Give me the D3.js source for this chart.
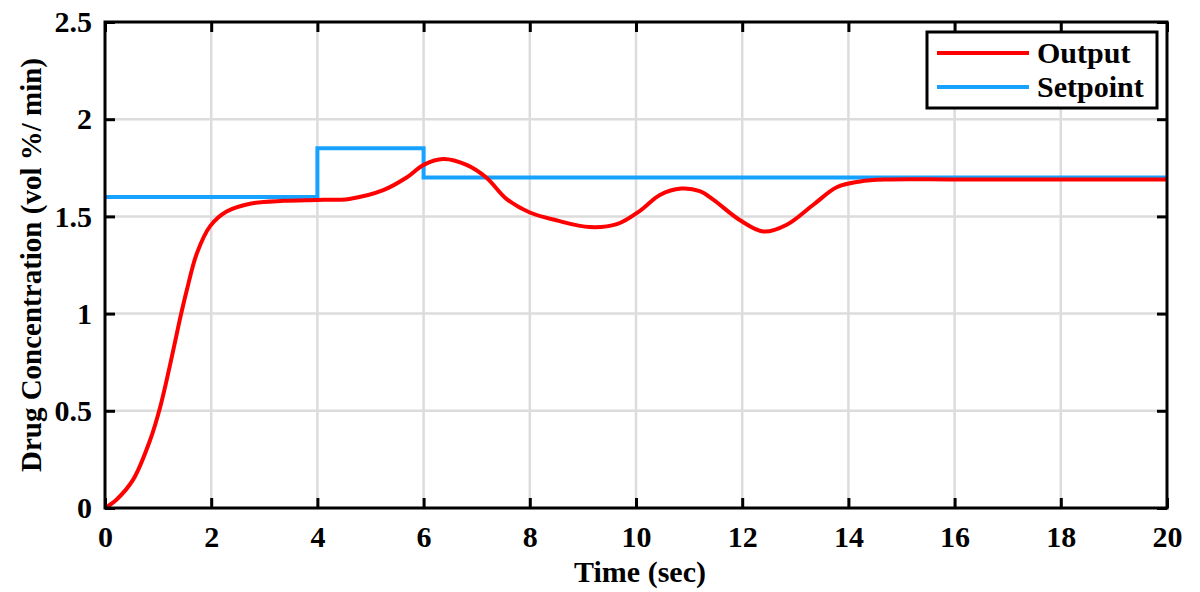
<!DOCTYPE html>
<html>
<head>
<meta charset="utf-8">
<script src="https://cdn.jsdelivr.net/npm/d3@7"></script>
<style>
  body { margin: 0; background: #fff; }
  text { font-family: "Liberation Serif", "Times New Roman", serif; font-weight: bold; fill: #000; }
</style>
</head>
<body>
<div id="chart"></div>
<script>
// time (sec) and drug concentration
var outputTime = [0, 0.22, 0.53, 0.85, 1.04, 1.22, 1.41, 1.54, 1.73, 1.98, 2.29, 2.73, 3.36, 4.0, 4.6,
    5.24, 5.68, 6.0, 6.37, 6.81, 7.18, 7.56, 8.0, 8.5, 9.13, 9.64, 10.08, 10.45, 10.85, 11.2,
    11.46, 11.96, 12.4, 12.84, 13.34, 13.78, 14.22, 14.72, 16, 18, 20];
var outputValue = [0, 0.044, 0.146, 0.35, 0.52, 0.73, 0.97, 1.12, 1.31, 1.45, 1.525, 1.565, 1.58, 1.585, 1.59,
    1.635, 1.70, 1.765, 1.795, 1.765, 1.70, 1.59, 1.52, 1.48, 1.445, 1.46, 1.53, 1.61, 1.643, 1.63,
    1.585, 1.48, 1.422, 1.457, 1.56, 1.65, 1.68, 1.69, 1.69, 1.69, 1.69];

var setpointTime = [0, 4, 6, 20];
var setpointValue = [1.6, 1.85, 1.7, 1.7];

var xTicks = [0, 2, 4, 6, 8, 10, 12, 14, 16, 18, 20];
var yTicks = [0, 0.5, 1, 1.5, 2, 2.5];
var yTickLabels = ["0", "0.5", "1", "1.5", "2", "2.5"];

var seriesNames = ["Output", "Setpoint"];
var seriesColors = ["#ff0000", "#17a2ff"];

var width = 1200, height = 592;
var margin = { left: 105, top: 22, right: 33, bottom: 84 };

var svg = d3.select("#chart").append("svg")
    .attr("width", width)
    .attr("height", height);

var x = d3.scaleLinear().domain([0, 20]).range([margin.left, width - margin.right]);
var y = d3.scaleLinear().domain([0, 2.5]).range([height - margin.bottom, margin.top]);

// grid
svg.append("g").selectAll("line").data(xTicks.slice(1, -1)).join("line")
    .attr("x1", d => x(d)).attr("x2", d => x(d))
    .attr("y1", y(0)).attr("y2", y(2.5))
    .attr("stroke", "#dcdcdc").attr("stroke-width", 2.5);
svg.append("g").selectAll("line").data(yTicks.slice(1, -1)).join("line")
    .attr("x1", x(0)).attr("x2", x(20))
    .attr("y1", d => y(d)).attr("y2", d => y(d))
    .attr("stroke", "#dcdcdc").attr("stroke-width", 2.5);

// lines
var setpointData = setpointTime.map((t, i) => ({ t: t, v: setpointValue[i] }));
var outputData = outputTime.map((t, i) => ({ t: t, v: outputValue[i] }));

svg.append("path").datum(setpointData)
    .attr("fill", "none")
    .attr("stroke", seriesColors[1])
    .attr("stroke-width", 4)
    .attr("d", d3.line().x(d => x(d.t)).y(d => y(d.v)).curve(d3.curveStepAfter));

svg.append("path").datum(outputData)
    .attr("fill", "none")
    .attr("stroke", seriesColors[0])
    .attr("stroke-width", 4)
    .attr("d", d3.line().x(d => x(d.t)).y(d => y(d.v)).curve(d3.curveCatmullRom.alpha(0.5)));

// axes, with the box ticks on all four sides
function styleAxis(g) {
    g.select(".domain").remove();
    g.selectAll(".tick line").attr("stroke", "#000").attr("stroke-width", 3);
    g.selectAll(".tick text")
        .style("font-family", "'Liberation Serif', serif")
        .style("font-weight", "bold")
        .style("font-size", "30px")
        .attr("fill", "#000");
}

svg.append("g")
    .attr("transform", "translate(0," + y(0) + ")")
    .call(d3.axisBottom(x).tickValues(xTicks).tickSize(-10).tickFormat(d3.format("d")))
    .call(styleAxis)
    .call(g => g.selectAll(".tick text").attr("y", 39).attr("dy", 0));
svg.append("g")
    .attr("transform", "translate(0," + y(2.5) + ")")
    .call(d3.axisTop(x).tickValues(xTicks).tickSize(-10).tickFormat(""))
    .call(styleAxis);
svg.append("g")
    .attr("transform", "translate(" + x(0) + ",0)")
    .call(d3.axisLeft(y).tickValues(yTicks).tickSize(-10).tickFormat((d, i) => yTickLabels[i]))
    .call(styleAxis)
    .call(g => g.selectAll(".tick text").attr("x", -13));
svg.append("g")
    .attr("transform", "translate(" + x(20) + ",0)")
    .call(d3.axisRight(y).tickValues(yTicks).tickSize(-10).tickFormat(""))
    .call(styleAxis);

svg.append("rect")
    .attr("x", x(0)).attr("y", y(2.5))
    .attr("width", x(20) - x(0)).attr("height", y(0) - y(2.5))
    .attr("fill", "none").attr("stroke", "#000").attr("stroke-width", 3);

// axis titles
svg.append("text")
    .attr("x", (x(0) + x(20)) / 2 + 4)
    .attr("y", 582)
    .attr("text-anchor", "middle")
    .style("font-size", "30px")
    .text("Time (sec)");

svg.append("text")
    .attr("transform", "translate(41," + (y(0) + y(2.5)) / 2 + ") rotate(-90)")
    .attr("text-anchor", "middle")
    .style("font-size", "29px")
    .text("Drug Concentration (vol %/ min)");

// legend
var legend = svg.append("g").attr("transform", "translate(927,32)");
legend.append("rect")
    .attr("width", 230).attr("height", 76)
    .attr("fill", "#fff").attr("stroke", "#000").attr("stroke-width", 3);
seriesNames.forEach(function (name, i) {
    legend.append("line")
        .attr("x1", 10).attr("x2", 102)
        .attr("y1", 21 + i * 34).attr("y2", 21 + i * 34)
        .attr("stroke", seriesColors[i]).attr("stroke-width", 4);
    legend.append("text")
        .attr("x", 110).attr("y", 31 + i * 34)
        .style("font-size", "30px")
        .text(name);
});
</script>
</body>
</html>
